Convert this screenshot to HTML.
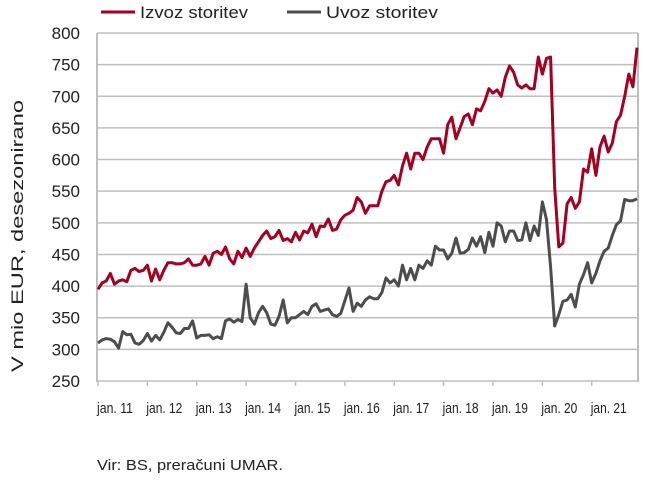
<!DOCTYPE html>
<html><head><meta charset="utf-8"><style>
body{margin:0;background:#fff;width:649px;height:478px;overflow:hidden;font-family:"Liberation Sans",sans-serif}
svg text{font-family:"Liberation Sans",sans-serif;fill:#222}
</style></head><body>
<svg id="chart" width="649" height="478" xmlns="http://www.w3.org/2000/svg">
<g id="grid"></g>
<g id="yticks"></g>
<g id="xticks"></g>
<g id="series"></g>
<g>
<line x1="101" y1="12" x2="135" y2="12" stroke="#a50021" stroke-width="3"/>
<text x="140" y="18" font-size="17" textLength="108" lengthAdjust="spacingAndGlyphs">Izvoz storitev</text>
<line x1="287" y1="12" x2="321" y2="12" stroke="#4d4d4d" stroke-width="3"/>
<text x="326" y="18" font-size="17" textLength="112" lengthAdjust="spacingAndGlyphs">Uvoz storitev</text>
</g>
<text transform="translate(23,236) rotate(-90)" text-anchor="middle" font-size="17" textLength="272" lengthAdjust="spacingAndGlyphs">V mio EUR, desezonirano</text>
<text x="97" y="470" font-size="15" textLength="186" lengthAdjust="spacingAndGlyphs">Vir: BS, preračuni UMAR.</text>
</svg>
<script>
const yTicks=[250,300,350,400,450,500,550,600,650,700,750,800];
const xTickLabels=["jan. 11","jan. 12","jan. 13","jan. 14","jan. 15","jan. 16","jan. 17","jan. 18","jan. 19","jan. 20","jan. 21"];
const exportValues=[395,405,408,420,403,408,410,407,425,428,423,425,
433,408,427,410,425,437,437,435,435,437,443,433,
433,435,447,433,452,455,450,462,443,435,455,445,
460,447,460,470,480,487,475,478,488,472,475,470,
485,473,487,484,498,478,495,494,506,488,490,505,
512,515,520,540,533,515,527,527,527,550,565,567,
575,560,590,610,585,610,610,600,620,633,633,633,
610,655,667,633,650,668,672,655,680,677,692,712,
705,710,700,730,748,738,718,713,718,712,712,762,
735,760,762,555,462,468,530,540,523,533,585,580,
617,575,620,637,612,626,660,670,700,735,715,777];
const importValues=[310,315,317,316,312,302,328,323,324,310,308,314,
325,313,322,315,327,342,335,326,325,333,333,345,
318,322,322,323,317,320,317,345,348,343,347,344,
403,350,340,358,368,358,340,338,352,378,342,350,
350,355,360,355,368,372,360,362,364,355,352,357,
377,397,360,373,368,378,383,380,380,390,413,405,
410,400,433,410,428,410,433,428,440,433,463,457,
457,443,452,476,452,453,458,476,463,478,453,485,
463,500,495,470,487,487,472,473,500,472,495,480,
533,505,430,337,355,376,378,387,367,403,418,437,
405,420,440,455,460,480,497,503,537,535,535,538];
const X0=98,X1=637,PL=97,PR=638,YT=33,YB=381,VMIN=250,VMAX=800;
const n=exportValues.length;
const xs=i=>X0+(X1-X0)*i/(n-1);
const ys=v=>YB-(v-VMIN)/(VMAX-VMIN)*(YB-YT);
const NS="http://www.w3.org/2000/svg";
function mk(t,a,p){const e=document.createElementNS(NS,t);for(const k in a)e.setAttribute(k,a[k]);p.appendChild(e);return e;}
const grid=document.getElementById('grid'),yt=document.getElementById('yticks'),xt=document.getElementById('xticks'),se=document.getElementById('series');
yTicks.forEach(v=>{
 const l=mk('line',{x1:PL,x2:PR,y1:ys(v),y2:ys(v),stroke:'#bfbfbf','stroke-width':1.5},grid);
 
 
 const t=mk('text',{x:80,y:ys(v)+6,'text-anchor':'end','font-size':17},yt);
 t.textContent=v;
 
 
});
const lb=mk('line',{x1:PL,x2:PL,y1:YT,y2:YB+1,stroke:'#bfbfbf','stroke-width':2},grid);


const rb=mk('line',{x1:PR,x2:PR,y1:YT,y2:YB+1,stroke:'#bfbfbf','stroke-width':2},grid);


xTickLabels.forEach((s,i)=>{
 const x=xs(i*12);
 const t=mk('text',{x:x-1,y:413,'font-size':15,textLength:36,lengthAdjust:'spacingAndGlyphs'},xt);
 t.textContent=s;
 
 
 const tk=mk('line',{x1:x,x2:x,y1:YB,y2:YB+5,stroke:'#bfbfbf','stroke-width':1.5},xt);
 
 
});
function line(vals,color,name){
 const d=vals.map((v,i)=>(i?'L':'M')+xs(i).toFixed(1)+','+ys(v).toFixed(1)).join('');
 const p=mk('path',{d:d,fill:'none',stroke:color,'stroke-width':3,'stroke-linejoin':'round'},se);
 
 
}
line(importValues,'#4d4d4d','import-line');
line(exportValues,'#a50021','export-line');
</script>
</body></html>
